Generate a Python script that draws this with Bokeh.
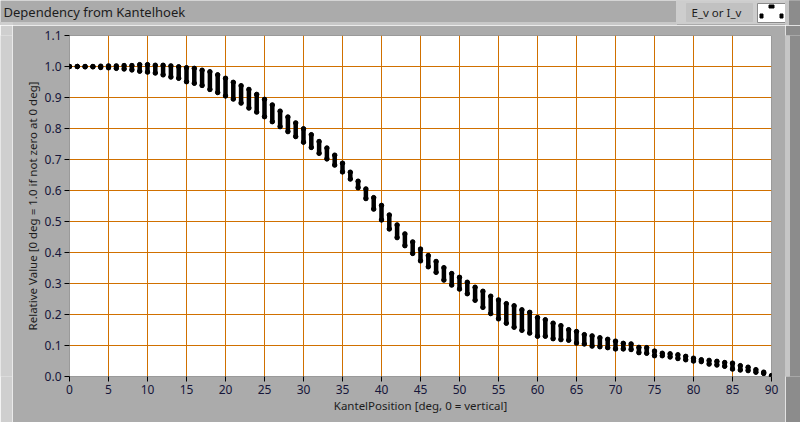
import math
from bokeh.plotting import figure
from bokeh.layouts import column, row
from bokeh.models import (Range1d, FixedTicker, NumeralTickFormatter, Label,
                          BoxAnnotation, ColumnDataSource)
from bokeh.embed import file_html
from bokeh.resources import INLINE

# ---- data ----
angles = list(range(0, 91))
rel_max = [1.000, 1.000, 1.000, 1.000, 1.001, 1.002, 1.002, 1.003, 1.003, 1.006,
           1.006, 1.004, 1.004, 1.002, 0.999, 0.996, 0.994, 0.988, 0.983, 0.973,
           0.962, 0.949, 0.938, 0.926, 0.910, 0.894, 0.876, 0.856, 0.837, 0.818,
           0.799, 0.780, 0.758, 0.737, 0.714, 0.688, 0.659, 0.630, 0.605, 0.577,
           0.552, 0.521, 0.489, 0.460, 0.434, 0.411, 0.390, 0.371, 0.351, 0.332,
           0.320, 0.304, 0.288, 0.275, 0.259, 0.247, 0.235, 0.228, 0.215, 0.207,
           0.190, 0.183, 0.172, 0.164, 0.151, 0.145, 0.135, 0.131, 0.125, 0.120,
           0.114, 0.107, 0.105, 0.094, 0.093, 0.082, 0.075, 0.073, 0.070, 0.065,
           0.059, 0.054, 0.052, 0.049, 0.045, 0.043, 0.035, 0.030, 0.022, 0.014,
           0.003]
rel_min = [1.000, 1.000, 0.999, 0.999, 0.997, 0.996, 0.994, 0.992, 0.989, 0.985,
           0.982, 0.979, 0.973, 0.966, 0.962, 0.951, 0.946, 0.939, 0.926, 0.916,
           0.905, 0.895, 0.882, 0.866, 0.853, 0.838, 0.822, 0.806, 0.790, 0.774,
           0.756, 0.739, 0.720, 0.702, 0.682, 0.660, 0.637, 0.609, 0.574, 0.540,
           0.505, 0.476, 0.448, 0.422, 0.397, 0.373, 0.354, 0.336, 0.311, 0.295,
           0.282, 0.267, 0.246, 0.223, 0.203, 0.186, 0.172, 0.159, 0.149, 0.140,
           0.130, 0.130, 0.122, 0.119, 0.117, 0.108, 0.105, 0.098, 0.096, 0.093,
           0.089, 0.089, 0.087, 0.077, 0.075, 0.067, 0.067, 0.063, 0.058, 0.054,
           0.050, 0.048, 0.040, 0.037, 0.033, 0.024, 0.021, 0.019, 0.014, 0.010,
           0.000]
x_ticks = [0, 5, 10, 15, 20, 25, 30, 35, 40, 45, 50, 55, 60, 65, 70, 75, 80, 85, 90]
y_ticks = [0.0, 0.1, 0.2, 0.3, 0.4, 0.5, 0.6, 0.7, 0.8, 0.9, 1.0, 1.1]

title_text = "Dependency from Kantelhoek"
x_label = "KantelPosition [deg, 0 = vertical]"
y_label = "Relative Value [0 deg = 1.0 if not zero at 0 deg]"
legend_text = "E_v or I_v"

# ---- style / layout constants ----
FONT = "Noto Sans"
GRID = "#d07000"
PANEL = "#ababab"
LIGHT = "#cfcfcf"
DARK = "#8c8c8c"
TOTAL_W, TOTAL_H = 800, 422
HEAD_H = 25
BODY_H = TOTAL_H - HEAD_H
LSTRIP = 12
RSTRIP = 15
MAIN_W = TOTAL_W - LSTRIP - RSTRIP
FW, FH = 702, 341
BL, BT = 57, 10
BR = MAIN_W - BL - FW
BB = BODY_H - BT - FH


def deco_fig(w, h, bg):
    f = figure(width=w, height=h, x_range=Range1d(0, w), y_range=Range1d(h, 0),
               x_axis_location=None, y_axis_location=None,
               output_backend="svg", toolbar_location=None,
               min_border=0, background_fill_color=bg, border_fill_color=bg,
               outline_line_color=None)
    f.grid.visible = False
    return f


def box(f, x0, y0, x1, y1, color, line=None):
    f.add_layout(BoxAnnotation(left=x0, right=x1, top=y0, bottom=y1,
                               fill_color=color, fill_alpha=1,
                               line_color=line if line else color, line_alpha=1,
                               line_width=1))


# ---- header bar (title + legend) ----
head = deco_fig(TOTAL_W, HEAD_H, PANEL)
box(head, 0, 22, 676, 25, "#c8c8c8")
box(head, 0, 22, LSTRIP, 25, LIGHT)
box(head, 676, 0, 785, 23, "#cdcdcd")
box(head, 686, 3, 752, 21, "#c1c1c1")
box(head, 757, 3, 785, 22, "white", "#8a8a8a")
box(head, 768.5, 4.5, 773.5, 7.5, "black")
box(head, 759.5, 13.5, 762.5, 17.5, "black")
box(head, 779.5, 13.5, 782.5, 17.5, "black")
box(head, 785, 0, 789, HEAD_H, "#c6c6c6")
box(head, 789, 0, TOTAL_W, HEAD_H, DARK)
head.add_layout(Label(x=3, y=11, text=title_text, text_font=FONT, text_font_size="13px",
                      text_color="#1c1c1c", text_baseline="middle", text_align="left"))
head.add_layout(Label(x=691, y=12, text=legend_text, text_font=FONT, text_font_size="11.5px",
                      text_color="#1c1c1c", text_baseline="middle", text_align="left"))

# ---- side strips ----
left = deco_fig(LSTRIP, BODY_H, LIGHT)
right = deco_fig(RSTRIP, BODY_H, DARK)
box(right, 0, 0, 4, BODY_H, "#c6c6c6")

# ---- main chart ----
p = figure(frame_width=FW, frame_height=FH,
           x_range=Range1d(0, 90), y_range=Range1d(0, 1.1),
           output_backend="svg", toolbar_location=None,
           min_border_left=BL, min_border_right=BR, min_border_top=BT, min_border_bottom=BB,
           background_fill_color="white", border_fill_color=PANEL,
           outline_line_color="#9a9a9a")
p.title.visible = False

for ax in (p.xaxis[0], p.yaxis[0]):
    ax.major_label_text_font = FONT
    ax.major_label_text_font_size = "12px"
    ax.major_label_text_color = "#16163a"
    ax.major_tick_line_color = "black"
    ax.major_tick_in = 0
    ax.major_tick_out = 5
    ax.minor_tick_line_color = None
    ax.axis_line_color = None
    ax.axis_label_text_font = FONT
    ax.axis_label_text_font_size = "11.5px"
    ax.axis_label_text_font_style = "normal"
    ax.axis_label_text_color = "#1c1c1c"

p.xaxis.axis_label = x_label
p.yaxis.axis_label = y_label
p.xaxis.major_label_standoff = 3
p.yaxis.major_label_standoff = 3
p.xaxis.axis_label_standoff = 1
p.yaxis.axis_label_standoff = 2

p.xaxis.ticker = FixedTicker(ticks=x_ticks)
p.yaxis.ticker = FixedTicker(ticks=y_ticks)
p.yaxis.formatter = NumeralTickFormatter(format="0.0")
p.xgrid.ticker = FixedTicker(ticks=x_ticks)
p.ygrid.ticker = FixedTicker(ticks=y_ticks)
for g in (p.xgrid[0], p.ygrid[0]):
    g.grid_line_color = GRID
    g.grid_line_width = 1
    g.grid_line_alpha = 1

src = ColumnDataSource(dict(x=angles, top=rel_max, bot=rel_min))
p.segment(x0="x", y0="bot", x1="x", y1="top", source=src,
          line_color="black", line_width=4.5, line_cap="round")
p.scatter(x="x", y="top", source=src, size=4.5, color="black")
p.scatter(x="x", y="bot", source=src, size=4.5, color="black")

layout = column(head, row(left, p, right, spacing=0), spacing=0)

open("out.html", "w").write(file_html(layout, INLINE))
